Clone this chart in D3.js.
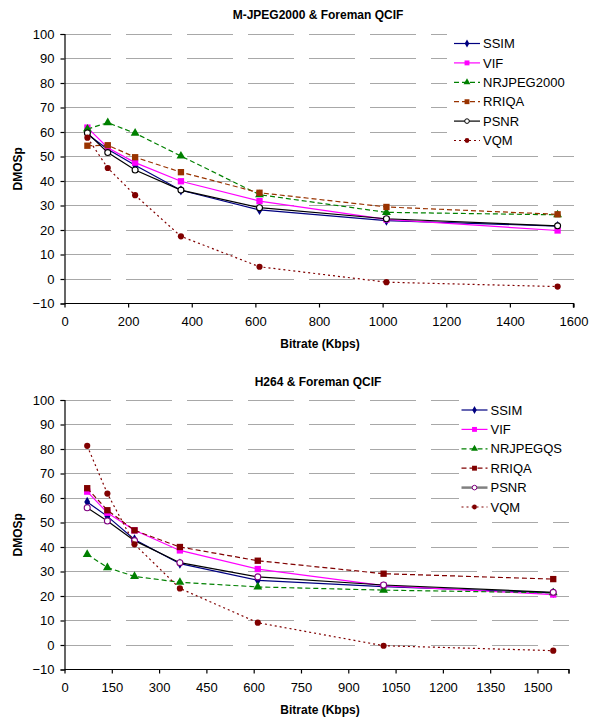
<!DOCTYPE html>
<html>
<head>
<meta charset="utf-8">
<script src="https://cdn.jsdelivr.net/npm/d3@7"></script>
<style>
  html, body { margin: 0; padding: 0; background: #fff; }
  svg { display: block; font-family: "Liberation Sans", Arial, sans-serif; }
</style>
</head>
<body>
<svg id="chart" width="596" height="719"></svg>
<script>
// Bitrates (Kbps) at which both codecs were evaluated
const bitrates = [72, 136, 222, 366, 613, 1012, 1550];

// M-JPEG2000 predicted DMOS per metric
const mj2SSIM   = [59.1, 53.0, 46.4, 36.2, 28.2, 23.8, 21.6];
const mj2VIF    = [61.8, 53.6, 47.5, 39.9, 31.8, 24.3, 19.8];
const mj2NR     = [61.2, 63.8, 59.5, 50.2, 34.4, 27.2, 26.2];
const mj2RRIQA  = [54.4, 54.6, 49.7, 43.6, 35.2, 29.4, 26.4];
const mj2PSNR   = [59.6, 51.6, 44.5, 36.3, 29.1, 24.6, 21.7];
const mj2VQM    = [57.7, 45.3, 34.2, 17.4, 5.0, -1.3, -3.1];

// H264 predicted DMOS per metric
const h264SSIM  = [58.4, 52.5, 43.1, 33.2, 26.4, 23.8, 21.3];
const h264VIF   = [62.6, 54.0, 46.8, 38.6, 31.0, 24.2, 20.6];
const h264NR    = [37.0, 31.6, 28.0, 25.6, 23.7, 22.4, 21.3];
const h264RRIQA = [64.0, 55.0, 46.8, 40.0, 34.4, 29.1, 26.9];
const h264PSNR  = [56.0, 50.6, 42.6, 33.6, 27.8, 24.5, 21.5];
const h264VQM   = [81.3, 61.8, 41.1, 23.1, 9.1, -0.3, -2.3];

const yTicks = [-10, 0, 10, 20, 30, 40, 50, 60, 70, 80, 90, 100];
const xTicksMJ2 = [0, 200, 400, 600, 800, 1000, 1200, 1400, 1600];
const xTicksH264 = [0, 150, 300, 450, 600, 750, 900, 1050, 1200, 1350, 1500];

const mj2Names  = ["SSIM", "VIF", "NRJPEG2000", "RRIQA", "PSNR", "VQM"];
const h264Names = ["SSIM", "VIF", "NRJPEGQS", "RRIQA", "PSNR", "VQM"];

const svg = d3.select("#chart");

function symbolPath(kind, size) {
  const map = {
    diamond: d3.symbolDiamond, square: d3.symbolSquare,
    triangle: d3.symbolTriangle, circle: d3.symbolCircle
  };
  return d3.symbol().type(map[kind]).size(size)();
}

function drawChart(cfg) {
  const g = svg.append("g");
  const x = d3.scaleLinear().domain([0, 1600]).range([cfg.left, cfg.right]);
  const y = d3.scaleLinear().domain([-10, 100]).range([cfg.bottom, cfg.top]);

  // horizontal gridlines
  g.append("g").selectAll("line")
    .data(yTicks.filter(t => t > -10))
    .join("line")
    .attr("x1", cfg.left).attr("x2", cfg.right)
    .attr("y1", d => y(d)).attr("y2", d => y(d))
    .attr("stroke", "#a8a8a8").attr("stroke-width", 1)
    .attr("stroke-dasharray", "46,15")
    .attr("shape-rendering", "crispEdges");

  // axes
  const yAxis = d3.axisLeft(y).tickValues(yTicks).tickSize(4).tickPadding(6)
    .tickFormat(d3.format("d"));
  const gy = g.append("g").attr("transform", `translate(${cfg.left},0)`).call(yAxis);
  const xAxis = d3.axisBottom(x).tickValues(cfg.xTicks).tickSize(4).tickPadding(9)
    .tickFormat(d3.format("d"));
  const gx = g.append("g").attr("transform", `translate(0,${cfg.bottom})`).call(xAxis);
  [gx, gy].forEach(a => {
    a.select(".domain").attr("stroke", "#000").attr("stroke-width", 1.2);
    a.selectAll(".tick line").attr("stroke", "#000").attr("stroke-width", 1.2);
    a.selectAll("text").attr("font-size", 13).attr("fill", "#000")
      .attr("font-family", "'Liberation Sans', Arial, sans-serif");
  });
  gx.select(".domain").attr("d", `M${cfg.left},0H${cfg.right}V4`);
  // right end tick
  gx.append("line").attr("x1", cfg.right).attr("x2", cfg.right).attr("y1", 0).attr("y2", 4)
    .attr("stroke", "#000").attr("stroke-width", 1.2);

  // titles
  g.append("text").attr("x", 318).attr("y", cfg.titleY).attr("text-anchor", "middle")
    .attr("font-size", 12).attr("font-weight", "bold").text(cfg.title);
  g.append("text").attr("x", 320).attr("y", cfg.bottom + 44)
    .attr("text-anchor", "middle").attr("font-size", 12).attr("font-weight", "bold")
    .text("Bitrate (Kbps)");
  g.append("text")
    .attr("transform", `translate(22,${(cfg.top + cfg.bottom) / 2}) rotate(-90)`)
    .attr("text-anchor", "middle").attr("font-size", 12).attr("font-weight", "bold")
    .text("DMOSp");

  const line = d3.line().x((d, i) => x(bitrates[i])).y(d => y(d));

  // series
  cfg.series.forEach(s => {
    g.append("path").datum(s.values).attr("d", line)
      .attr("fill", "none").attr("stroke", s.color).attr("stroke-width", 1.2)
      .attr("stroke-dasharray", s.dash || null);
    g.append("g").selectAll("path").data(s.values).join("path")
      .attr("transform", (d, i) => `translate(${x(bitrates[i])},${y(d)})`)
      .attr("d", symbolPath(s.marker, s.size))
      .attr("fill", s.fill).attr("stroke", s.mstroke || "none").attr("stroke-width", 1.1);
  });

  // legend
  const lg = g.append("g");
  lg.append("rect").attr("x", cfg.legend.x).attr("y", cfg.legend.y)
    .attr("width", cfg.legend.w).attr("height", cfg.legend.h).attr("fill", "#fff");
  cfg.series.forEach((s, i) => {
    const ly = cfg.legend.y0 + i * 19.4;
    lg.append("line").attr("x1", cfg.legend.lx).attr("x2", cfg.legend.lx + 26)
      .attr("y1", ly).attr("y2", ly)
      .attr("stroke", s.legendColor || s.color)
      .attr("stroke-width", s.legendWidth || 1.2)
      .attr("stroke-dasharray", s.dash || null);
    lg.append("path").attr("transform", `translate(${cfg.legend.lx + 13},${ly})`)
      .attr("d", symbolPath(s.marker, s.size * 0.6))
      .attr("fill", s.fill).attr("stroke", s.mstroke || "none").attr("stroke-width", 1);
    lg.append("text").attr("x", cfg.legend.lx + 29).attr("y", ly + 4.6)
      .attr("font-size", 13).text(s.name);
  });
}

const DASH = "5,3";
const DOT = "2,3";

drawChart({
  title: "M-JPEG2000 & Foreman QCIF", titleY: 18.5,
  left: 64.5, right: 573.5, top: 34, bottom: 303.5, xTicks: xTicksMJ2,
  legend: { x: 447, y: 32, w: 146, h: 117, lx: 454, y0: 43.5 },
  series: [
    { name: mj2Names[0], values: mj2SSIM, color: "#000080", fill: "#000080", marker: "diamond", size: 30 },
    { name: mj2Names[1], values: mj2VIF, color: "#ff00ff", fill: "#ff00ff", marker: "square", size: 40 },
    { name: mj2Names[2], values: mj2NR, color: "#008000", fill: "#008000", marker: "triangle", size: 34, dash: DASH },
    { name: mj2Names[3], values: mj2RRIQA, color: "#993300", fill: "#993300", marker: "square", size: 40, dash: DASH },
    { name: mj2Names[4], values: mj2PSNR, color: "#000000", fill: "#ffffff", mstroke: "#000000", marker: "circle", size: 28 },
    { name: mj2Names[5], values: mj2VQM, color: "#800000", fill: "#800000", marker: "circle", size: 30, dash: DOT }
  ]
});

drawChart({
  title: "H264 & Foreman QCIF", titleY: 386,
  left: 64.5, right: 569, top: 400, bottom: 669.5, xTicks: xTicksH264,
  legend: { x: 459, y: 398, w: 134, h: 120, lx: 461.5, y0: 410 },
  series: [
    { name: h264Names[0], values: h264SSIM, color: "#000080", fill: "#000080", marker: "diamond", size: 30 },
    { name: h264Names[1], values: h264VIF, color: "#ff00ff", fill: "#ff00ff", marker: "square", size: 40 },
    { name: h264Names[2], values: h264NR, color: "#008000", fill: "#008000", marker: "triangle", size: 34, dash: DASH },
    { name: h264Names[3], values: h264RRIQA, color: "#800000", fill: "#800000", marker: "square", size: 40, dash: DASH },
    { name: h264Names[4], values: h264PSNR, color: "#000000", fill: "#ffffff", mstroke: "#800080", marker: "circle", size: 28,
      legendColor: "#808080", legendWidth: 2.5 },
    { name: h264Names[5], values: h264VQM, color: "#800000", fill: "#800000", marker: "circle", size: 30, dash: DOT }
  ]
});
</script>
</body>
</html>
